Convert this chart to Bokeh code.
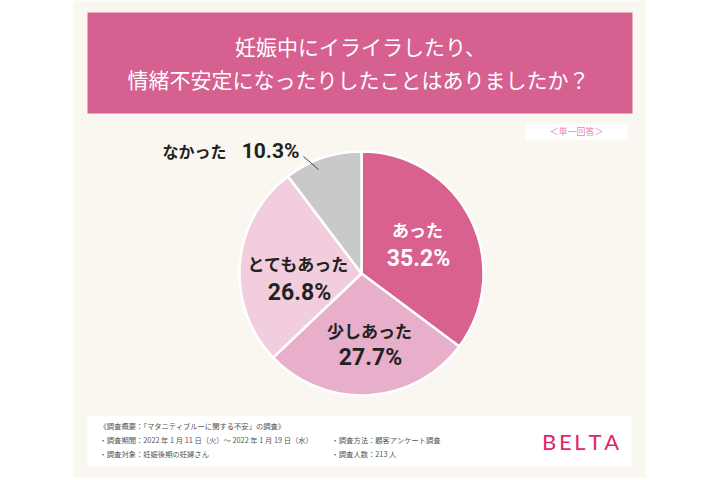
import math
from bokeh.plotting import figure
from bokeh.models import Range1d, ColumnDataSource
from bokeh.core.properties import value
from bokeh.embed import file_html
from bokeh.resources import INLINE

# ---- data ----
categories = ["あった", "少しあった", "とてもあった", "なかった"]
percents = [35.2, 27.7, 26.8, 10.3]
colors = ["#D8618F", "#E7AFC9", "#F1CDDD", "#C9C9C9"]
title_lines = ["妊娠中にイライラしたり、", "情緒不安定になったりしたことはありましたか？"]
badge = "＜単一回答＞"
footer_left = ["《調査概要：「マタニティブルーに関する不安」の調査》",
               "・調査期間：2022 年 1 月 11 日（火）～ 2022 年 1 月 19 日（水）",
               "・調査対象：妊娠後期の妊婦さん"]
footer_right = ["・調査方法：顧客アンケート調査", "・調査人数：213 人"]
brand = "BELTA"

W, H = 720, 480
FONT = "Noto Sans CJK JP"
NUMFONT = "Roboto"

def Y(y):
    return H - y

p = figure(width=W, height=H, output_backend="svg", toolbar_location=None,
           x_range=Range1d(0, W), y_range=Range1d(0, H), min_border=0)
p.axis.visible = False
p.grid.visible = False
p.outline_line_color = None
p.background_fill_color = "white"
p.border_fill_color = "white"

# background panels
p.quad(left=[73], right=[645], bottom=[Y(477)], top=[Y(0)], fill_color="#FAF7F0", line_color=None)
p.quad(left=[87], right=[632], bottom=[Y(113)], top=[Y(12)], fill_color="#D6608F", line_color=None)
p.quad(left=[525], right=[627], bottom=[Y(139)], top=[Y(123)], fill_color="white", line_color=None)
p.quad(left=[87], right=[631], bottom=[Y(466)], top=[Y(415)], fill_color="white", line_color=None)

# title
p.text(x=[360, 358], y=[Y(45), Y(78)], text=title_lines, text_font=value(FONT),
       text_font_size="21px", text_color="white", text_align="center", text_baseline="middle")
p.text(x=[576], y=[Y(131)], text=[badge], text_font=value(FONT), text_font_size="9px",
       text_color="#E08AAE", text_align="center", text_baseline="middle")

# pie
cx, cy, r = 361, 273, 122
total = sum(percents)
starts, ends = [], []
acc = 0.0
for v in percents:
    starts.append(math.pi / 2 - 2 * math.pi * acc / total)
    acc += v
    ends.append(math.pi / 2 - 2 * math.pi * acc / total)
src = ColumnDataSource(dict(start=starts, end=ends, color=colors))
p.wedge(x=cx, y=Y(cy), radius=r, start_angle="start", end_angle="end", direction="clock",
        fill_color="color", line_color="white", line_width=2.5, source=src)

# labels (layout positions)
lab_pos = [(417, 229, 258, "white"), (369, 330, 357, "#222222"), (298, 263, 292, "#222222")]
for i, (lx, ly1, ly2, col) in enumerate(lab_pos):
    p.text(x=[lx], y=[Y(ly1)], text=[categories[i]], text_font=value(FONT), text_font_style="bold",
           text_font_size="17px", text_color=col, text_align="center", text_baseline="middle")
    p.text(x=[lx + 1], y=[Y(ly2)], text=[f"{percents[i]:.1f}%"], text_font=value(NUMFONT),
           text_font_style="bold", text_font_size="23px", text_color=col, text_align="center",
           text_baseline="middle")
p.text(x=[162], y=[Y(150)], text=[categories[3]], text_font=value(FONT), text_font_style="bold",
       text_font_size="16px", text_color="#222222", text_align="left", text_baseline="middle")
p.text(x=[299], y=[Y(150)], text=[f"{percents[3]:.1f}%"], text_font=value(NUMFONT),
       text_font_style="bold", text_font_size="21px", text_color="#222222", text_align="right",
       text_baseline="middle")
p.line(x=[303, 318], y=[Y(156), Y(169)], line_color="#444444", line_width=1)

# footer
p.text(x=[99] * 3, y=[Y(425), Y(439), Y(453)], text=footer_left, text_font=value(FONT),
       text_font_size="7.3px", text_color="#555555", text_align="left", text_baseline="middle")
p.text(x=[331] * 2, y=[Y(439), Y(453)], text=footer_right, text_font=value(FONT),
       text_font_size="7.3px", text_color="#555555", text_align="left", text_baseline="middle")
p.text(x=[580], y=[Y(441)], text=["\u2009".join(brand)], text_font=value("Lato"),
       text_font_size="22px", text_color="#E2246A", text_align="center", text_baseline="middle")

open("out.html", "w").write(file_html(p, INLINE))
